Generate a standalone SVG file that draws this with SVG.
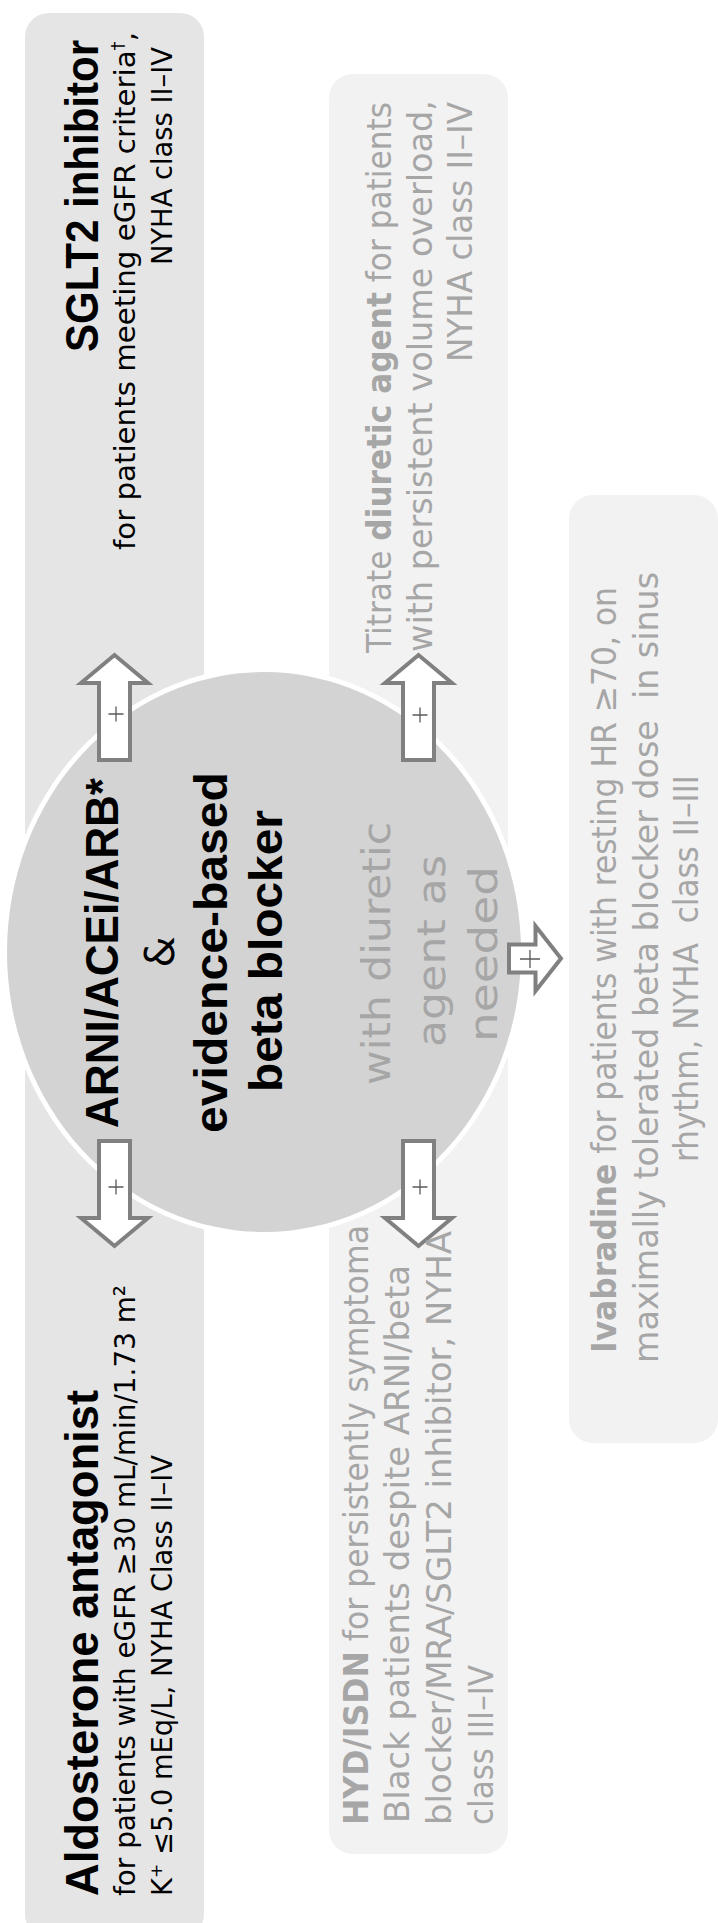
<svg xmlns="http://www.w3.org/2000/svg" width="718" height="1923" viewBox="0 0 718 1923">
<style>
.r { font-family: "DejaVu Sans", "Liberation Sans", sans-serif; }
.b { font-family: "Liberation Sans", Arial, sans-serif; font-weight: bold; }
.blk { fill: #000000; }
.gry { fill: #a6a6a6; }
.arr { fill: #ffffff; stroke: #808080; stroke-width: 4; stroke-linejoin: miter; }
.plus { stroke: #595959; stroke-width: 1.3; fill: none; }
</style>
<rect width="718" height="1923" fill="#ffffff"/>

<g id="left-panel">
  <rect x="25" y="13" width="179" height="1925" rx="24" ry="24" fill="#e5e5e5"/>
</g>
<g id="middle-panel">
  <rect x="329" y="74" width="179" height="1780" rx="24" ry="24" fill="#f2f2f2"/>
</g>
<g id="node-ivabradine">
  <rect x="569" y="495" width="149" height="948" rx="24" ry="24" fill="#f2f2f2"/>
  <g class="r gry" font-size="34">
    <text transform="translate(616,1353) rotate(-90)" textLength="766" lengthAdjust="spacingAndGlyphs"><tspan font-weight="bold">Ivabradine</tspan> for patients with resting HR ≥70, on</text>
    <text transform="translate(658,1363) rotate(-90)" textLength="791" lengthAdjust="spacingAndGlyphs">maximally tolerated beta blocker dose&#160; in sinus</text>
    <text transform="translate(698,1162) rotate(-90)" textLength="387" lengthAdjust="spacingAndGlyphs">rhythm, NYHA&#160; class II–III</text>
  </g>
</g>

<g id="node-center">
  <ellipse cx="264" cy="952" rx="262" ry="285" fill="#ffffff"/>
  <ellipse cx="264" cy="952" rx="257" ry="280" fill="#d3d3d3"/>
  <g class="b blk" font-size="46">
    <text transform="translate(118,1128) rotate(-90)" textLength="350" lengthAdjust="spacingAndGlyphs">ARNI/ACEi/ARB*</text>
    <text transform="translate(227,1133) rotate(-90)" textLength="361" lengthAdjust="spacingAndGlyphs">evidence-based</text>
    <text transform="translate(282,1092) rotate(-90)" textLength="282" lengthAdjust="spacingAndGlyphs">beta blocker</text>
  </g>
  <text class="r blk" font-size="40" text-anchor="middle" transform="translate(174,952) rotate(-90)">&amp;</text>
  <g class="r gry" font-size="39">
    <text transform="translate(390,1085) rotate(-90)" textLength="263" lengthAdjust="spacingAndGlyphs">with diuretic</text>
    <text transform="translate(445,1047) rotate(-90)" textLength="192" lengthAdjust="spacingAndGlyphs">agent as</text>
    <text transform="translate(497,1042) rotate(-90)" textLength="176" lengthAdjust="spacingAndGlyphs">needed</text>
  </g>
</g>

<g id="node-sglt2">
  <text class="b blk" font-size="46" transform="translate(98,352) rotate(-90)" textLength="312" lengthAdjust="spacingAndGlyphs">SGLT2 inhibitor</text>
  <g class="r blk" font-size="29">
    <text transform="translate(135,550) rotate(-90)" textLength="518" lengthAdjust="spacingAndGlyphs">for patients meeting eGFR criteria<tspan font-size="18" dy="-11">†</tspan><tspan dy="11">,</tspan></text>
    <text transform="translate(172,265) rotate(-90)" textLength="218" lengthAdjust="spacingAndGlyphs">NYHA class II–IV</text>
  </g>
</g>

<g id="node-aldosterone">
  <text class="b blk" font-size="46" transform="translate(98,1896) rotate(-90)" textLength="506" lengthAdjust="spacingAndGlyphs">Aldosterone antagonist</text>
  <g class="r blk" font-size="29">
    <text transform="translate(135,1896) rotate(-90)" textLength="611" lengthAdjust="spacingAndGlyphs">for patients with eGFR ≥30 mL/min/1.73 m²</text>
    <text transform="translate(172,1896) rotate(-90)" textLength="441" lengthAdjust="spacingAndGlyphs">K⁺ ≤5.0 mEq/L, NYHA Class II–IV</text>
  </g>
</g>

<g id="node-diuretic">
  <g class="r gry" font-size="34">
    <text transform="translate(391,653) rotate(-90)" textLength="551" lengthAdjust="spacingAndGlyphs">Titrate <tspan font-weight="bold">diuretic agent</tspan> for patients</text>
    <text transform="translate(432,652) rotate(-90)" textLength="552" lengthAdjust="spacingAndGlyphs">with persistent volume overload,</text>
    <text transform="translate(472,362) rotate(-90)" textLength="260" lengthAdjust="spacingAndGlyphs">NYHA class II–IV</text>
  </g>
</g>

<g id="connectors">
  <path class="arr" d="M99,760 L99,683 L81,683 L114.5,655 L148,683 L130,683 L130,760 Z"/>
  <path class="arr" d="M403,760 L403,683 L385,683 L418.5,655 L452,683 L434,683 L434,760 Z"/>
  <path class="arr" d="M99,1141 L99,1218 L81,1218 L114.5,1246 L148,1218 L130,1218 L130,1141 Z"/>
  <path class="arr" d="M403,1141 L403,1218 L385,1218 L418.5,1246 L452,1218 L434,1218 L434,1141 Z"/>
  <path class="arr" d="M509,944.5 L535.5,944.5 L535.5,926 L561,958.5 L535.5,991 L535.5,972.5 L509,972.5 Z"/>
  <path class="plus" d="M108.5,714 H123.5 M116,706.5 V721.5"/>
  <path class="plus" d="M412.5,715 H427.5 M420,707.5 V722.5"/>
  <path class="plus" d="M108.5,1187 H123.5 M116,1179.5 V1194.5"/>
  <path class="plus" d="M412.5,1187 H427.5 M420,1179.5 V1194.5"/>
  <path class="plus" stroke-width="2.3" d="M520,959 H540 M530,950 V968"/>
</g>

<g id="node-hydisdn">
  <g class="r gry" font-size="34">
    <text transform="translate(368,1825) rotate(-90)" textLength="600" lengthAdjust="spacingAndGlyphs"><tspan font-weight="bold">HYD/ISDN</tspan> for persistently symptoma</text>
    <text transform="translate(409,1823) rotate(-90)" textLength="558" lengthAdjust="spacingAndGlyphs">Black patients despite ARNI/beta</text>
    <text transform="translate(451,1825) rotate(-90)" textLength="594" lengthAdjust="spacingAndGlyphs">blocker/MRA/SGLT2 inhibitor, NYHA</text>
    <text transform="translate(493,1825) rotate(-90)" textLength="160" lengthAdjust="spacingAndGlyphs">class III–IV</text>
  </g>
</g>
</svg>
